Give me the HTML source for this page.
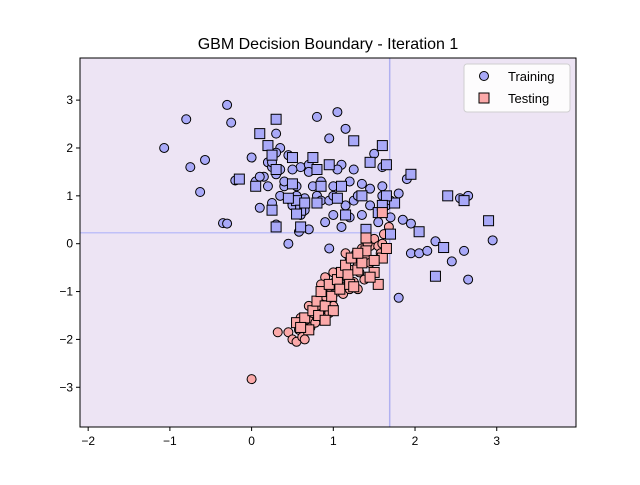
<!DOCTYPE html>
<html><head><meta charset="utf-8"><style>
body{margin:0;background:#fff;font-family:"Liberation Sans",sans-serif}
</style></head><body>
<svg id="chart" width="640" height="480" xmlns="http://www.w3.org/2000/svg" font-family="Liberation Sans, sans-serif">
<rect width="640" height="480" fill="#fff"/>
<rect x="80" y="58" width="496" height="369" fill="#ede4f4"/>
<text x="328" y="49" text-anchor="middle" font-size="16">GBM Decision Boundary - Iteration 1</text>
<g id="bound"></g>
<g id="marks"></g>
<rect x="80" y="58" width="496" height="369" fill="none" stroke="#000" stroke-width="1"/>
<g id="axes"></g>
<g>
<rect x="464" y="64" width="106" height="48" rx="3" fill="#fff" stroke="#ccc" opacity="0.9"/>
<circle cx="484" cy="76" r="4.5" fill="#a9a9f8" stroke="#000"/>
<text x="508" y="81" font-size="13">Training</text>
<rect x="479" y="93" width="10" height="10" fill="#fba9a9" stroke="#000"/>
<text x="508" y="103" font-size="13">Testing</text>
</g>
</svg>
<script>
const xTicks=[-2,-1,0,1,2,3];
const yTicks=[-3,-2,-1,0,1,2,3];
const splitX=1.69, splitY=0.23;
const trainBlue=[[-1.07,2.0],[-0.8,2.6],[-0.75,1.6],[-0.57,1.75],[-0.63,1.08],[-0.3,2.9],[-0.25,2.53],[-0.35,0.43],[-0.3,0.42],[-0.2,1.32],[-0.15,1.35],[0.0,1.8],[0.05,1.3],[0.1,0.75],[0.15,1.4],[0.2,1.7],[0.25,1.6],[0.3,1.45],[0.3,2.3],[0.35,2.0],[0.3,1.9],[0.35,1.0],[0.4,1.2],[0.4,1.3],[0.45,1.85],[0.48,0.9],[0.5,0.8],[0.55,1.2],[0.55,1.0],[0.6,1.6],[0.6,0.6],[0.65,0.7],[0.45,0.0],[0.25,0.85],[0.3,0.4],[0.58,0.25],[0.7,1.65],[0.75,1.2],[0.8,1.0],[0.8,2.65],[0.85,1.3],[0.85,0.9],[0.9,0.45],[0.95,0.9],[0.95,2.2],[0.95,-0.1],[1.0,1.0],[1.05,2.75],[1.1,1.65],[1.15,2.4],[1.15,0.8],[1.2,1.3],[1.25,0.9],[1.3,1.0],[1.35,1.25],[1.35,0.6],[1.4,0.3],[1.45,0.8],[1.5,1.88],[1.55,0.45],[1.6,1.0],[1.65,0.8],[1.7,0.55],[1.8,1.05],[1.85,0.5],[1.9,1.35],[1.95,0.42],[1.8,-1.13],[1.95,-0.2],[2.05,-0.2],[2.15,-0.15],[2.25,0.05],[2.45,-0.37],[2.6,-0.15],[2.65,-0.75],[2.55,0.95],[2.65,1.0],[2.95,0.07],[1.25,1.55],[1.05,1.55],[0.7,1.5],[0.1,1.4],[0.2,1.2],[0.5,1.55],[0.65,0.95],[0.7,0.3],[1.0,0.6],[1.1,0.35],[1.6,1.6],[1.45,1.15],[1.6,1.2],[1.7,0.9],[0.35,1.55],[0.25,1.7],[1.2,0.55],[1.0,1.2]];
const testBlue=[[0.3,2.6],[0.1,2.3],[0.2,2.05],[-0.15,1.35],[0.05,1.2],[0.25,1.85],[0.3,1.55],[0.5,1.8],[0.5,1.25],[0.55,0.9],[0.45,0.95],[0.6,0.7],[0.65,0.85],[0.3,0.35],[0.6,0.35],[0.75,1.8],[0.8,1.55],[0.85,1.2],[0.95,1.65],[0.8,0.85],[1.1,1.2],[1.15,0.6],[1.25,2.15],[1.6,2.05],[1.45,1.7],[1.65,1.65],[1.35,1.0],[1.55,0.65],[1.75,0.85],[1.4,0.3],[1.95,1.45],[2.05,0.25],[2.4,1.0],[2.6,0.9],[2.9,0.48],[2.35,-0.08],[2.25,-0.68],[1.7,0.2],[1.65,1.0],[0.25,0.7],[1.05,0.95],[0.55,0.62],[1.6,0.8]];
const trainRed=[[0.0,-2.83],[0.32,-1.85],[0.45,-1.85],[0.5,-2.0],[0.55,-2.05],[0.58,-1.8],[0.62,-1.95],[0.65,-1.7],[0.7,-1.6],[0.72,-1.75],[0.75,-1.45],[0.78,-1.65],[0.8,-1.3],[0.82,-1.5],[0.85,-1.2],[0.88,-1.55],[0.9,-1.1],[0.92,-1.35],[0.95,-0.9],[0.98,-1.15],[1.0,-1.3],[1.02,-0.8],[1.05,-1.0],[1.08,-0.65],[1.1,-0.9],[1.12,-1.05],[1.15,-0.5],[1.18,-0.75],[1.2,-0.3],[1.22,-0.55],[1.25,-0.8],[1.28,-0.2],[1.3,-0.45],[1.32,-0.6],[1.35,-0.1],[1.4,-0.3],[1.45,-0.05],[1.5,0.1],[1.55,-0.05],[1.6,0.0],[1.62,0.2],[1.68,0.35],[1.2,-0.95],[1.05,-0.6],[0.9,-0.7],[1.45,-0.4],[1.38,-0.75],[1.5,-0.6],[0.6,-1.55],[0.7,-1.3],[0.85,-0.85],[0.95,-1.45],[1.0,-0.6],[1.15,-0.2],[1.3,-0.95],[0.65,-2.0],[1.42,0.0],[1.58,-0.2]];
const testRed=[[0.55,-1.65],[0.65,-1.55],[0.7,-1.8],[0.75,-1.4],[0.8,-1.2],[0.82,-1.5],[0.85,-1.0],[0.9,-1.3],[0.95,-0.85],[0.98,-1.1],[1.0,-1.4],[1.05,-0.75],[1.08,-0.95],[1.1,-0.6],[1.15,-0.45],[1.18,-0.65],[1.2,-0.85],[1.22,-0.3],[1.25,-0.9],[1.3,-0.55],[1.35,-0.4],[1.4,-0.15],[1.5,-0.6],[1.55,-0.85],[1.6,-0.3],[1.65,-0.1],[1.5,-0.35],[1.45,-0.7],[1.6,0.65],[1.4,0.12],[1.3,-0.2],[0.9,-1.6],[0.6,-1.75]];

const NS='http://www.w3.org/2000/svg';
const X0=80,X1=576,Y0=58,Y1=427,xmin=-2.1,xmax=3.97,ymin=-3.83,ymax=3.88;
function sx(v){return X0+(v-xmin)/(xmax-xmin)*(X1-X0);}
function sy(v){return Y1-(v-ymin)/(ymax-ymin)*(Y1-Y0);}
function mk(tag,attrs,parent){const e=document.createElementNS(NS,tag);for(const k in attrs)e.setAttribute(k,attrs[k]);parent.appendChild(e);return e;}
const bound=document.getElementById('bound');
let l1=mk('line',{x1:X0,x2:sx(splitX),y1:sy(splitY),y2:sy(splitY),stroke:'#c0c0f8','stroke-width':1.5},bound);


let l2=mk('line',{x1:sx(splitX),x2:sx(splitX),y1:Y0,y2:Y1,stroke:'#b0b0f0','stroke-width':1.5},bound);


const marks=document.getElementById('marks');
function circles(arr,fill,name){arr.forEach(p=>{const c=mk('circle',{cx:sx(p[0]),cy:sy(p[1]),r:4.5,fill:fill,stroke:'#000','stroke-width':1},marks);

});}
function squares(arr,fill,name){arr.forEach(p=>{const r=mk('rect',{x:sx(p[0])-5,y:sy(p[1])-5,width:10,height:10,fill:fill,stroke:'#000','stroke-width':1},marks);

});}
circles(trainBlue,'#a9a9f8','training-point-class0');
circles(trainRed,'#fba9a9','training-point-class1');
squares(testBlue,'#a9a9f8','testing-point-class0');
squares(testRed,'#fba9a9','testing-point-class1');
const axes=document.getElementById('axes');
xTicks.forEach(t=>{const x=sx(t);mk('line',{x1:x,x2:x,y1:Y1,y2:Y1+4,stroke:'#000'},axes);
const tx=mk('text',{x:x,y:Y1+18,'text-anchor':'middle','font-size':12},axes);tx.textContent=(t<0?'\u2212'+(-t):t);

});
yTicks.forEach(t=>{const y=sy(t);mk('line',{x1:X0-4,x2:X0,y1:y,y2:y,stroke:'#000'},axes);
const ty=mk('text',{x:X0-7,y:y+4,'text-anchor':'end','font-size':12},axes);ty.textContent=(t<0?'\u2212'+(-t):t);

});
</script>
</body></html>
